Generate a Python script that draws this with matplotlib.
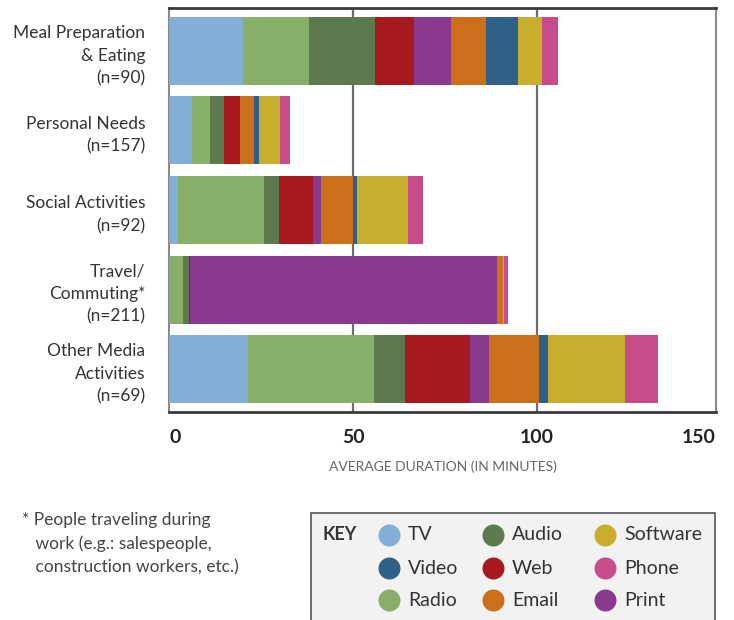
import matplotlib.pyplot as plt
import numpy as np
from matplotlib.patches import Rectangle

plt.rcParams['font.family'] = ['Lato', 'DejaVu Sans']

# Data
categories = [
    "Meal Preparation\n& Eating\n(n=90)",
    "Personal Needs\n(n=157)",
    "Social Activities\n(n=92)",
    "Travel/\nCommuting*\n(n=211)",
    "Other Media\nActivities\n(n=69)",
]

series = ["TV", "Radio", "Audio", "Web", "Print", "Email", "Video", "Software", "Phone"]
tv       = [20.2, 6.2, 2.4, 0.0, 21.4]
radio    = [17.9, 4.9, 23.3, 3.9, 34.2]
audio    = [17.9, 3.8, 4.1, 1.4, 8.4]
web      = [10.6, 4.3, 9.2, 0.5, 17.7]
print_   = [10.0, 0.0, 2.2, 83.4, 5.2]
email    = [9.5, 3.8, 8.7, 1.4, 13.6]
video    = [8.7, 1.4, 1.1, 0.0, 2.4]
software = [6.5, 5.7, 13.9, 0.5, 20.9]
phone    = [4.4, 2.7, 4.0, 1.1, 9.0]
values = [tv, radio, audio, web, print_, email, video, software, phone]

colors = {
    "TV": "#82aed8", "Radio": "#87af6a", "Audio": "#5c7a4e", "Web": "#a8191f",
    "Print": "#8a3a8e", "Email": "#cb6f1b", "Video": "#2f6188",
    "Software": "#c9ae2e", "Phone": "#c84c8a",
}

# legend order (column-wise)
key_order = [["TV", "Video", "Radio"], ["Audio", "Web", "Email"], ["Software", "Phone", "Print"]]

fig = plt.figure(figsize=(7.34, 6.2), dpi=100)
ax = fig.add_axes([169 / 734, 1 - 412 / 620, (716 - 169) / 734, (412 - 8) / 620])

y = np.arange(len(categories))
left = np.zeros(len(categories))
for name, vals in zip(series, values):
    ax.barh(y, vals, left=left, height=0.855, color=colors[name], zorder=3)
    left += np.array(vals)

xmax = 148.6
ax.set_xlim(0, xmax)
ax.set_ylim(4.54, -0.54)

ax.set_yticks(y)
ax.set_yticklabels(categories, fontsize=12.5, color="#333333", linespacing=1.5)
ax.tick_params(axis="y", length=0, pad=17)

ax.set_xticks([0, 50, 100, xmax])
ax.set_xticklabels(["0", "50", "100", "150"], fontsize=14, fontweight="bold", color="#222222")
ax.get_xticklabels()[0].set_ha("left")
ax.get_xticklabels()[-1].set_ha("right")
ax.tick_params(axis="x", length=0, pad=12)

for xv in [50, 100]:
    ax.axvline(xv, color="#6e6e6e", linewidth=1.6, zorder=1)

for side in ["top", "bottom"]:
    ax.spines[side].set_color("#3a3a3a")
    ax.spines[side].set_linewidth(2)
for side in ["left", "right"]:
    ax.spines[side].set_color("#8a8a8a")
    ax.spines[side].set_linewidth(1.5)

ax.set_xlabel("AVERAGE DURATION (IN MINUTES)", fontsize=10, color="#666666", labelpad=11)

# footnote
fig.text(22 / 734, 1 - 512 / 620,
         "* People traveling during\n   work (e.g.: salespeople,\n   construction workers, etc.)",
         fontsize=12.5, color="#444444", va="top", ha="left", linespacing=1.55)

# key box
kx = fig.add_axes([310 / 734, 0, (716 - 310) / 734, (620 - 512) / 620])
kx.set_xlim(310, 716)
kx.set_ylim(620, 512)
kx.axis("off")
kx.add_patch(Rectangle((311, 513), 404, 120, facecolor="#f2f2f2",
                       edgecolor="#555555", linewidth=1.2, clip_on=False))
kx.text(323, 535, "KEY", fontsize=13, fontweight="bold", color="#333333", va="center", ha="left")
col_x = [389, 493, 605]
row_y = [535, 568, 600]
for cx, names in zip(col_x, key_order):
    for ry, name in zip(row_y, names):
        kx.scatter([cx], [ry], s=220, color=colors[name], zorder=3)
        kx.text(cx + 19, ry, name, fontsize=14, color="#333333", va="center", ha="left")

fig.savefig("out.png", dpi=100)
